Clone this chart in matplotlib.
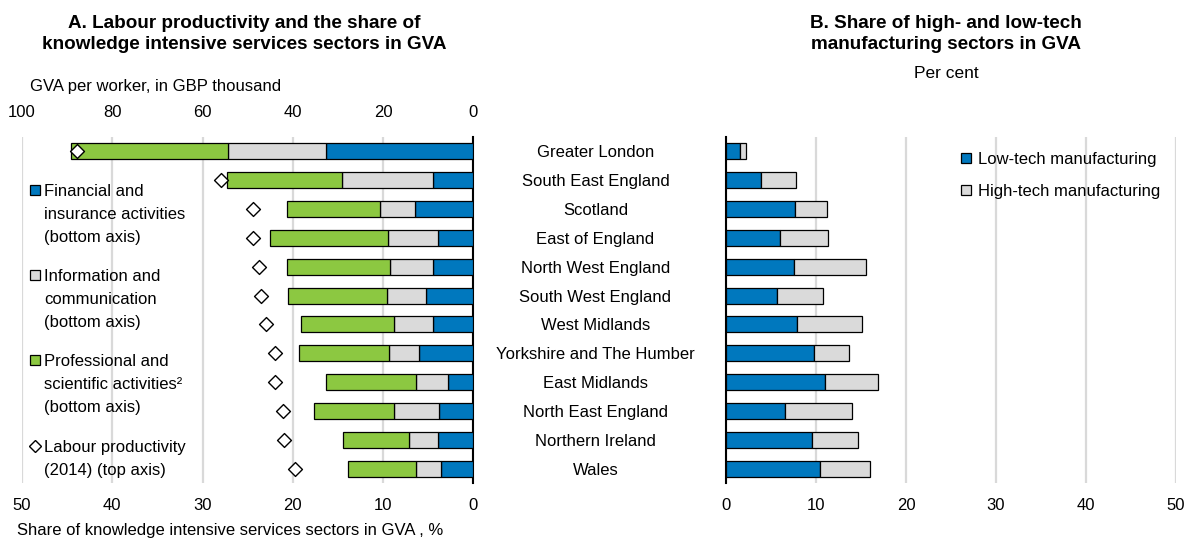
import matplotlib
matplotlib.use("Agg")
import matplotlib.pyplot as plt
from matplotlib.patches import Rectangle
from matplotlib.lines import Line2D

plt.rcParams['font.family'] = ['Liberation Sans', 'DejaVu Sans']
plt.rcParams['font.size'] = 12

regions = ["Greater London", "South East England", "Scotland", "East of England",
           "North West England", "South West England", "West Midlands",
           "Yorkshire and The Humber", "East Midlands", "North East England",
           "Northern Ireland", "Wales"]

# Panel A (% of GVA, bottom axis)
financial = [16.3, 4.5, 6.5, 3.9, 4.5, 5.2, 4.5, 6.0, 2.8, 3.8, 3.9, 3.6]
information = [10.9, 10.0, 3.8, 5.5, 4.7, 4.4, 4.3, 3.3, 3.6, 5.0, 3.2, 2.8]
professional = [17.4, 12.8, 10.3, 13.1, 11.4, 10.9, 10.3, 10.0, 9.9, 8.8, 7.3, 7.5]
# Labour productivity, GBP thousand (top axis)
productivity = [87.8, 55.9, 48.9, 48.9, 47.5, 47.1, 46.0, 44.0, 44.0, 42.1, 42.0, 39.6]

# Panel B (per cent)
low_tech = [1.6, 3.9, 7.7, 6.0, 7.6, 5.7, 7.9, 9.8, 11.0, 6.6, 9.5, 10.4]
high_tech = [0.6, 3.9, 3.5, 5.3, 7.9, 5.1, 7.2, 3.9, 5.9, 7.4, 5.2, 5.6]

bottom_ticks = [50, 40, 30, 20, 10, 0]
top_ticks = [100, 80, 60, 40, 20, 0]
right_ticks = [0, 10, 20, 30, 40, 50]

BLUE = "#0078BE"
GREY = "#DADADA"
GREEN = "#8CC841"
GRID = "#D9D9D9"

W, H = 1190, 543
fig = plt.figure(figsize=(W / 100, H / 100), dpi=100)

def fx(px):
    return px / W

def fy(py):
    return 1 - py / H

ax_top, ax_bot = 137, 483
axL = fig.add_axes([fx(22), fy(ax_bot), fx(473.3) - fx(22), fy(ax_top) - fy(ax_bot)])
axR = fig.add_axes([fx(726), fy(ax_bot), fx(1176) - fx(726), fy(ax_top) - fy(ax_bot)])

y = list(range(len(regions)))
bh = 0.56

# ---- Left panel
left = [0] * len(y)
for vals, col in [(financial, BLUE), (information, GREY), (professional, GREEN)]:
    axL.barh(y, vals, left=left, height=bh, color=col, edgecolor="black", linewidth=0.9, zorder=3)
    left = [l + v for l, v in zip(left, vals)]
axL.set_xlim(50, 0)
axL.set_ylim(len(y) - 0.5, -0.5)
axL.set_xticks(bottom_ticks)
axL.set_xticklabels([str(t) for t in bottom_ticks])
axL.set_yticks([])
axL.grid(axis="x", color=GRID, linewidth=1.6, zorder=0)
axL.set_axisbelow(True)
for s in ["top", "left", "bottom"]:
    axL.spines[s].set_visible(False)
axL.spines["right"].set_color("black")
axL.spines["right"].set_linewidth(1.5)
axL.tick_params(axis="x", length=0, pad=11)

axT = axL.twiny()
axT.set_xlim(100, 0)
axT.set_xticks(top_ticks)
axT.set_xticklabels([str(t) for t in top_ticks])
axT.tick_params(axis="x", length=0, pad=12.5)
for s in axT.spines.values():
    s.set_visible(False)
axT.scatter(productivity, y, marker="D", s=50, facecolor="white", edgecolor="black",
            linewidth=1.0, zorder=5, clip_on=False)
axT.set_ylim(len(y) - 0.5, -0.5)

# ---- Right panel
axR.barh(y, low_tech, height=bh, color=BLUE, edgecolor="black", linewidth=0.9, zorder=3)
axR.barh(y, high_tech, left=low_tech, height=bh, color=GREY, edgecolor="black", linewidth=0.9, zorder=3)
axR.set_xlim(0, 50)
axR.set_ylim(len(y) - 0.5, -0.5)
axR.set_xticks(right_ticks)
axR.set_xticklabels([str(t) for t in right_ticks])
axR.grid(axis="x", color=GRID, linewidth=1.6, zorder=0)
axR.set_axisbelow(True)
for s in ["top", "right", "bottom"]:
    axR.spines[s].set_visible(False)
axR.spines["left"].set_linewidth(1.5)
axR.set_yticks(y)
axR.set_yticklabels(regions, ha="center")
axR.tick_params(axis="y", length=0, pad=94)
axR.tick_params(axis="x", length=0, pad=11)

# ---- Titles and labels
fig.text(fx(244), fy(34), "A. Labour productivity and the share of\nknowledge intensive services sectors in GVA",
         ha="center", va="center", fontweight="bold", fontsize=13.6, linespacing=1.3)
fig.text(fx(946), fy(34), "B. Share of high- and low-tech\nmanufacturing sectors in GVA",
         ha="center", va="center", fontweight="bold", fontsize=13.6, linespacing=1.3)
fig.text(fx(946), fy(74), "Per cent", ha="center", va="center", fontsize=12.5)
fig.text(fx(30), fy(87), "GVA per worker, in GBP thousand", ha="left", va="center")
fig.text(fx(17), fy(530), "Share of knowledge intensive services sectors in GVA , %", ha="left", va="center")

# ---- Legends (manual)
def legend_entry(xp, yp, label, kind, color=None, tx=9):
    if kind == "box":
        fig.patches.append(Rectangle((fx(xp - 5), fy(yp + 5)), fx(10), fy(0) - fy(10),
                                     transform=fig.transFigure, facecolor=color,
                                     edgecolor="black", linewidth=0.9))
    else:
        fig.lines.append(Line2D([fx(xp)], [fy(yp)], transform=fig.transFigure, marker="D",
                                markersize=6.5, markerfacecolor="white", markeredgecolor="black",
                                markeredgewidth=1.0, linestyle="none"))
    fig.text(fx(xp + tx), fy(yp - 6), label, ha="left", va="top", linespacing=1.68)

legend_entry(35, 190, "Financial and\ninsurance activities\n(bottom axis)", "box", BLUE)
legend_entry(35, 275, "Information and\ncommunication\n(bottom axis)", "box", GREY)
legend_entry(35, 360, "Professional and\nscientific activities²\n(bottom axis)", "box", GREEN)
legend_entry(35, 446, "Labour productivity\n(2014) (top axis)", "diamond")

legend_entry(966, 158, "Low-tech manufacturing", "box", BLUE, tx=12)
legend_entry(966, 190, "High-tech manufacturing", "box", GREY, tx=12)

fig.savefig("out.png", dpi=100)
